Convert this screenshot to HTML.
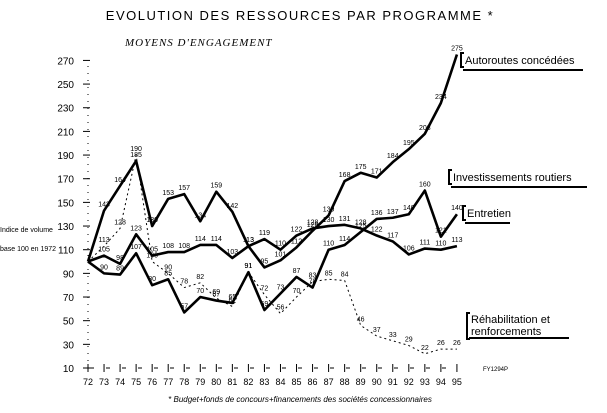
<!DOCTYPE html>
<html><head><meta charset="utf-8"><style>
body{margin:0;background:#fff}
svg{display:block;font-family:"Liberation Sans",sans-serif}
</style></head><body>
<svg width="607" height="413" viewBox="0 0 607 413">
<text x="300" y="20" text-anchor="middle" font-size="13" letter-spacing="1.5">EVOLUTION DES RESSOURCES PAR PROGRAMME *</text>
<text x="125" y="46" font-size="11" font-style="italic" font-family="Liberation Serif,serif" letter-spacing="1">MOYENS D'ENGAGEMENT</text>
<text x="0" y="232" font-size="7">Indice de volume</text>
<text x="0" y="251" font-size="7">base 100 en 1972</text>
<g id="axes"></g>
<g id="series"></g>
<g id="legend" font-size="11">
<g><path d="M464 53 h-3 v14 h3 M463 70 h120" stroke="#000" stroke-width="2" fill="none"/><text x="465" y="64">Autoroutes concédées</text></g>
<g><path d="M452 170 h-3 v14 h3 M451 187 h136" stroke="#000" stroke-width="2" fill="none"/><text x="453" y="181">Investissements routiers</text></g>
<g><path d="M466 206 h-3 v14 h3 M465 223 h45" stroke="#000" stroke-width="2" fill="none"/><text x="467" y="217">Entretien</text></g>
<g><path d="M470 313 h-3 v26 h3 M469 338 h100" stroke="#000" stroke-width="2" fill="none"/><text x="471" y="323">Réhabilitation et</text><text x="471" y="335">renforcements</text></g>
</g>
<text x="483" y="371" font-size="6">FY1294P</text>
<text x="300" y="402" text-anchor="middle" font-size="8" font-style="italic">* Budget+fonds de concours+financements des sociétés concessionnaires</text>
</svg>
<script>
const years=[72,73,74,75,76,77,78,79,80,81,82,83,84,85,86,87,88,89,90,91,92,93,94,95];
const yTicks=[10,30,50,70,90,110,130,150,170,190,210,230,250,270];
const autoroutes=[100,143,164,185,130,153,157,134,159,142,113,95,101,112,126,139,168,175,171,184,195,208,234,275];
const investissements=[100,90,89,107,80,85,57,70,67,65,91,59,73,87,78,110,114,125,136,137,140,160,121,140];
const entretien=[100,105,98,123,105,108,108,114,114,103,113,119,110,122,128,130,131,128,122,117,106,111,110,113];
const rehabilitation=[100,113,128,190,100,90,78,82,69,62,91,72,56,70,83,85,84,46,37,33,29,22,26,26];
const NS="http://www.w3.org/2000/svg";
const xs=i=>88+i*16.04;
const ys=v=>368-(v-10)*1.183;
const ax=document.getElementById('axes'),sg=document.getElementById('series');
function mk(tag,at,p){const e=document.createElementNS(NS,tag);for(const k in at)e.setAttribute(k,at[k]);p.appendChild(e);return e;}
const vline=mk('line',{x1:88,y1:ys(10),x2:88,y2:ys(270),stroke:'#000','stroke-width':1,'stroke-dasharray':'1 6'},ax);


yTicks.forEach(t=>{
  const l=mk('line',{x1:83,x2:90,y1:ys(t),y2:ys(t),stroke:'#000'},ax);
  
  
  const tx=mk('text',{x:74,y:ys(t)+4,'text-anchor':'end','font-size':10},ax);tx.textContent=t;
  
  
});
const xl=mk('line',{x1:88,x2:xs(23),y1:368,y2:368,stroke:'#000','stroke-dasharray':'4 12','stroke-dashoffset':'-2'},ax);


years.forEach((y,i)=>{
  const l=mk('line',{x1:xs(i),x2:xs(i),y1:364,y2:372,stroke:'#000'},ax);
  
  
  const tx=mk('text',{x:xs(i),y:385,'text-anchor':'middle','font-size':9},ax);tx.textContent=y;
  
  
});
function series(vals,name,dash,w,lab){
  const p=mk('polyline',{points:vals.map((v,i)=>xs(i)+','+ys(v)).join(' '),fill:'none',stroke:'#000','stroke-width':w,'stroke-linejoin':'round'},sg);
  if(dash)p.setAttribute('stroke-dasharray',dash);
  
  
  vals.forEach((v,i)=>{
    if(i===0)return;
    const t=mk('text',{x:xs(i),y:ys(v)-4,'text-anchor':'middle','font-size':7},sg);t.textContent=v;
    
    
  });
}
series(autoroutes,'autoroutes',null,2.6);
series(investissements,'investissements',null,2.6);
series(entretien,'entretien',null,2.6);
series(rehabilitation,'rehabilitation','2 3',1);
</script>
</body></html>
